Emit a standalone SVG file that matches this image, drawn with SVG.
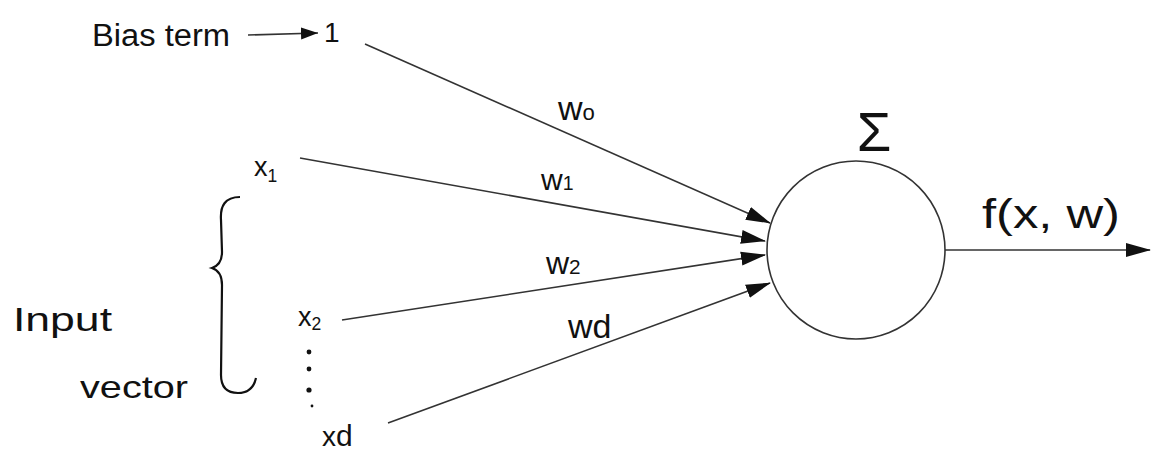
<svg xmlns="http://www.w3.org/2000/svg" width="1151" height="455" viewBox="0 0 1151 455">
<style>
.t{font-family:"Liberation Sans",Arial,sans-serif;fill:#111}
.ln{stroke:#333;stroke-width:1.6;fill:none}
.sub{font-size:0.65em}
</style>
<defs>
<marker id="ah" markerWidth="26" markerHeight="16" refX="24" refY="8" orient="auto" markerUnits="userSpaceOnUse">
<path d="M0,1 L25,8 L0,15 Z" fill="#111"/>
</marker>
<marker id="ah2" markerWidth="18" markerHeight="14" refX="17" refY="7" orient="auto" markerUnits="userSpaceOnUse">
<path d="M0,1 L17,7 L0,13 Z" fill="#111"/>
</marker>
</defs>
<rect width="1151" height="455" fill="#fff"/>
<g id="connectors">
<line class="ln" x1="248" y1="35" x2="318" y2="33" marker-end="url(#ah2)" stroke="#111" stroke-width="2.5"/>
<line class="ln" x1="365" y1="44" x2="770" y2="223" marker-end="url(#ah)"/>
<line class="ln" x1="300" y1="158" x2="765" y2="241" marker-end="url(#ah)"/>
<line class="ln" x1="342" y1="320" x2="765" y2="255" marker-end="url(#ah)"/>
<line class="ln" x1="388" y1="423" x2="770" y2="283" marker-end="url(#ah)"/>
<line class="ln" x1="944" y1="250" x2="1150" y2="250" marker-end="url(#ah)" stroke="#111" stroke-width="3"/>
</g>
<g id="bias">
<text class="t" x="92" y="46" font-size="31" textLength="138" lengthAdjust="spacingAndGlyphs">Bias term</text>
<text class="t" x="324" y="42" font-size="28">1</text>
</g>
<g id="x1"><text class="t" x="254" y="176" font-size="27">x<tspan class="sub" dy="6">1</tspan></text></g>
<g id="x2"><text class="t" x="298" y="326" font-size="27">x<tspan class="sub" dy="4">2</tspan></text></g>
<g id="dots" fill="#111">
<circle cx="309" cy="352" r="2.4"/><circle cx="309" cy="369" r="2.4"/><circle cx="309" cy="390" r="2.6"/><circle cx="312" cy="406" r="1.4"/>
</g>
<g id="xd"><text class="t" x="322" y="446" font-size="28">x<tspan font-size="30">d</tspan></text></g>
<g id="brace">
<path d="M240,197 C225,197 220,206 221,220 L222,252 C222,262 218,266 212,268 C218,270 222,275 222,285 L221,375 C221,388 228,393 238,393 C248,393 254,387 256,378" stroke="#111" stroke-width="2.2" fill="none"/>
</g>
<g id="input-label">
<text class="t" x="13" y="331" font-size="34" textLength="99" lengthAdjust="spacingAndGlyphs">Input</text>
<text class="t" x="80" y="398" font-size="32" textLength="108" lengthAdjust="spacingAndGlyphs">vector</text>
</g>
<g id="weights">
<text class="t" x="558" y="120" font-size="34">w<tspan class="sub">o</tspan></text>
<text class="t" x="541" y="190" font-size="30">w<tspan class="sub">1</tspan></text>
<text class="t" x="546" y="274" font-size="32">w<tspan class="sub">2</tspan></text>
<text class="t" x="568" y="338" font-size="34">wd</text>
</g>
<g id="neuron">
<circle cx="856" cy="250" r="89" fill="#fff" stroke="#333" stroke-width="1.6"/>
<text class="t" x="874" y="151" font-size="56" text-anchor="middle">Σ</text>
</g>
<g id="output"><text class="t" x="982" y="228" font-size="40" textLength="138" lengthAdjust="spacingAndGlyphs">f(x, w)</text></g>
</svg>
